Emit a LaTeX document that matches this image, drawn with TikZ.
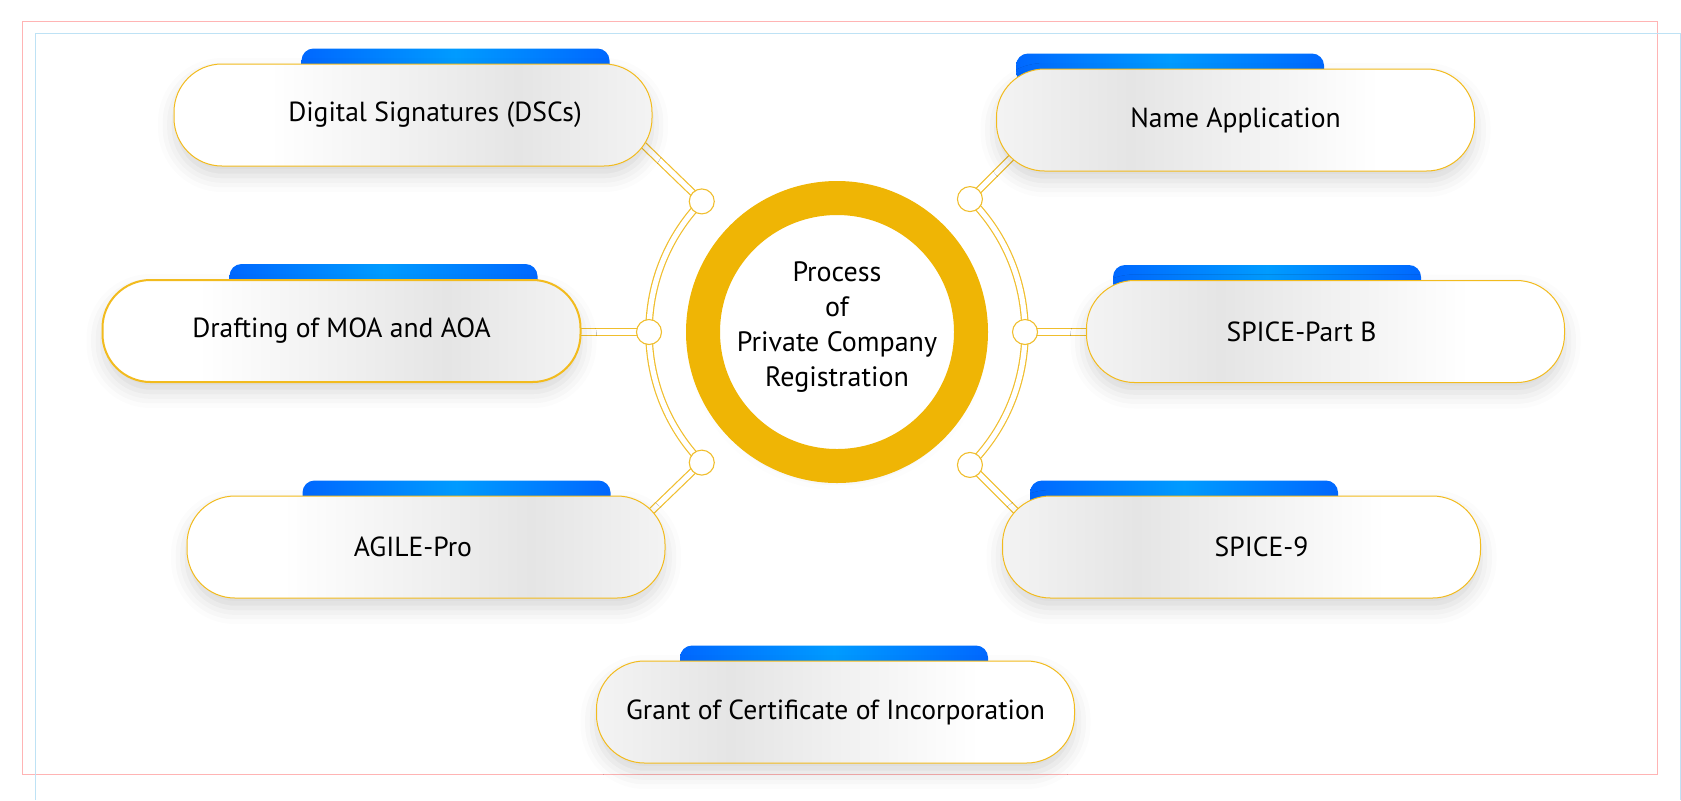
\documentclass[tikz,border=0pt]{standalone}
\usepackage{fontspec}
\setmainfont{PT Sans}
\usetikzlibrary{calc}
\usetikzlibrary{backgrounds}
\usetikzlibrary{shadows.blur}

\definecolor{ringgold}{RGB}{239,181,5}
\definecolor{linegold}{RGB}{242,187,30}
\definecolor{wiregold}{RGB}{240,190,45}
\definecolor{boxgray}{RGB}{229,229,229}
\definecolor{tabblue}{RGB}{0,104,255}
\definecolor{tablight}{RGB}{0,155,255}
\definecolor{framepink}{RGB}{255,180,180}
\definecolor{frameblue}{RGB}{190,226,245}

\pgfdeclarehorizontalshading{boxleft}{100bp}{color(0bp)=(white); color(25bp)=(white); color(35bp)=(white); color(61bp)=(boxgray); color(75bp)=(boxgray!45); color(100bp)=(boxgray!45)}
\pgfdeclarehorizontalshading{boxright}{100bp}{color(0bp)=(boxgray!45); color(25bp)=(boxgray!45); color(39bp)=(boxgray); color(65bp)=(white); color(100bp)=(white)}

\begin{document}
\begin{tikzpicture}[x=0.5pt,y=-0.5pt,
    item/.style={rectangle, rounded corners=24pt, minimum width=239pt, minimum height=51pt,
        draw=linegold, line width=0.5pt, shade, font=\fontsize{13.8}{17}\selectfont,
        blur shadow={shadow xshift=0pt, shadow yshift=-5pt, shadow blur radius=8pt, shadow opacity=16}},
    itemL/.style={item, shading=boxleft},
    itemR/.style={item, shading=boxright},
    tab/.style={left color=tabblue, right color=tabblue, middle color=tablight, rounded corners=6pt},
    hub/.style={circle, draw=ringgold, line width=17pt, fill=white, minimum size=134pt,
        blur shadow={shadow xshift=0pt, shadow yshift=-4pt, shadow blur radius=8pt, shadow opacity=15}},
    hubtext/.style={align=center, yshift=2.5pt, font=\fontsize{14}{17.5}\selectfont},
    knot/.style={circle, draw=wiregold, line width=0.55pt, fill=white, minimum size=12.5pt, inner sep=0pt},
    wire/.style={draw=wiregold, line width=0.6pt, double=white, double distance=2.6pt}]

    \useasboundingbox (0,0) rectangle (1681,800);

    % centre
    \node[hub, label={[hubtext]center:Process\\of\\Private Company\\Registration}] (ring) at (837,332) {};

    % steps
    \node[itemL] (b1) at (413,115) {\hspace*{22pt}Digital Signatures (DSCs)};
    \node[itemR] (b2) at (1235.5,120) {Name Application};
    \node[itemL, line width=1pt] (b3) at (341.5,331) {Drafting of MOA and AOA};
    \node[itemR] (b4) at (1325.5,331.5) {SPICE-Part B\hspace*{24pt}};
    \node[itemL] (b5) at (426,547) {AGILE-Pro\hspace*{13pt}};
    \node[itemR] (b6) at (1241.5,547) {\hspace*{20pt}SPICE-9};
    \node[itemR] (b7) at (835.5,712) {Grant of Certificate of Incorporation};

    % knots on the arcs
    \node[knot] (k1) at ($(ring.center)+(224:188)$) {};
    \node[knot] (k2) at ($(ring.center)+(180:188)$) {};
    \node[knot] (k3) at ($(ring.center)+(136:188)$) {};
    \node[knot] (k4) at ($(ring.center)+(-45:188)$) {};
    \node[knot] (k5) at ($(ring.center)+(0:188)$) {};
    \node[knot] (k6) at ($(ring.center)+(45:188)$) {};

    \begin{scope}[on background layer]
        \draw[framepink, line width=0.5pt] (22,21) rectangle (1657,774);
        \draw[frameblue, line width=0.5pt] (35,800) -- (35,33) -- (1680,33) -- (1680,800);

        \shade[tab] ($(b1.north west)+(128,15)$) rectangle ++(308,-30);
        \shade[tab] ($(b2.north west)+(20,15)$) rectangle ++(308,-30);
        \shade[tab] ($(b3.north west)+(128,15)$) rectangle ++(308,-30);
        \shade[tab] ($(b4.north west)+(27,15)$) rectangle ++(308,-30);
        \shade[tab] ($(b5.north west)+(116,15)$) rectangle ++(308,-30);
        \shade[tab] ($(b6.north west)+(28,15)$) rectangle ++(308,-30);
        \shade[tab] ($(b7.north west)+(84,15)$) rectangle ++(308,-30);

        \draw[wire] (k1.center) arc[start angle=224, end angle=136, radius=188];
        \draw[wire] (k4.center) arc[start angle=-45, end angle=45, radius=188];

        \draw[wire] (k1.center) -- ($(ring.center)!1.5!(k1)$);
        \draw[wire] (k2.center) -- (k2 -| b3.center);
        \draw[wire] (k3.center) -- ($(ring.center)!1.5!(k3)$);
        \draw[wire] (k4.center) -- ($(ring.center)!1.5!(k4)$);
        \draw[wire] (k5.center) -- (k5 -| b4.center);
        \draw[wire] (k6.center) -- ($(ring.center)!1.5!(k6)$);
    \end{scope}
\end{tikzpicture}
\end{document}
